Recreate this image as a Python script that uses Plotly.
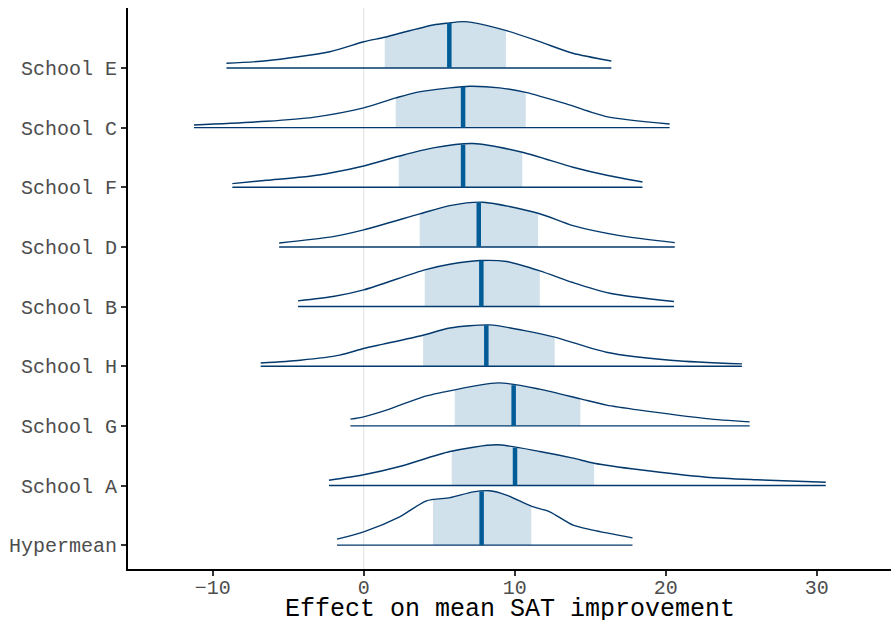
import numpy as np
import plotly.graph_objects as go

# Row labels, bottom to top
labels = ["Hypermean", "School A", "School G", "School H", "School B",
          "School D", "School F", "School C", "School E"]

# Density curves (x = effect, h = scaled density height in row units)
hyper_x = [-1.77, 0, 2.38, 4.15, 5.72, 7.26, 8.34, 9.45, 11.1, 12.32, 13.86, 15.18, 17.8]
hyper_h = [0.101, 0.223, 0.475, 0.743, 0.797, 0.894, 0.911, 0.839, 0.654, 0.559, 0.336, 0.252, 0.122]
a_x = [-2.3, 0, 2.38, 5.72, 8.79, 11.66, 13.87, 15.26, 18.28, 22.7, 26.0, 30.6]
a_h = [0.089, 0.18, 0.319, 0.57, 0.683, 0.57, 0.458, 0.374, 0.263, 0.139, 0.096, 0.055]
g_x = [-0.88, 0, 1.5, 3.93, 5.05, 8.91, 11.66, 14.35, 16.09, 18.28, 22.7, 25.56]
g_h = [0.112, 0.151, 0.263, 0.487, 0.554, 0.721, 0.616, 0.453, 0.347, 0.263, 0.122, 0.067]
h_x = [-6.82, -4.2, -1.59, 0, 1.3, 3.93, 5.7, 8.34, 10.57, 12.65, 16.07, 20.5, 25.05]
h_h = [0.055, 0.101, 0.185, 0.297, 0.37, 0.52, 0.64, 0.693, 0.6, 0.487, 0.235, 0.096, 0.039]
b_x = [-4.35, -2.03, 0, 4.04, 5.7, 7.7, 9.47, 11.66, 13.86, 16.3, 20.55]
b_h = [0.096, 0.168, 0.28, 0.616, 0.71, 0.772, 0.755, 0.599, 0.403, 0.223, 0.084]
d_x = [-5.6, -2.03, 0, 3.71, 5.7, 7.9, 11.55, 13.86, 16.95, 20.6]
d_h = [0.067, 0.173, 0.285, 0.554, 0.693, 0.75, 0.565, 0.357, 0.19, 0.072]
f_x = [-8.7, -6.44, -3.58, -2.05, 0, 2.32, 4.6, 7.24, 10.5, 13.86, 16.1, 18.46]
f_h = [0.062, 0.117, 0.185, 0.247, 0.357, 0.52, 0.66, 0.733, 0.587, 0.336, 0.201, 0.089]
c_x = [-11.24, -6.44, -3.36, 0, 2.12, 3.49, 5.7, 7.02, 9.0, 10.73, 13.42, 16.07, 20.26]
c_h = [0.045, 0.106, 0.173, 0.331, 0.498, 0.592, 0.666, 0.693, 0.666, 0.592, 0.398, 0.185, 0.062]
e_x = [-9.09, -6.44, -2.25, 0, 1.39, 2.38, 4.6, 5.47, 6.69, 9.45, 11.66, 13.85, 16.4]
e_h = [0.079, 0.122, 0.273, 0.441, 0.515, 0.582, 0.721, 0.75, 0.777, 0.626, 0.441, 0.247, 0.117]

curves_x = [hyper_x, a_x, g_x, h_x, b_x, d_x, f_x, c_x, e_x]
curves_h = [hyper_h, a_h, g_h, h_h, b_h, d_h, f_h, c_h, e_h]

# Medians and 50% intervals
medians = [7.81, 10.02, 9.93, 8.12, 7.79, 7.62, 6.58, 6.58, 5.67]
int_lo = [4.59, 5.83, 6.03, 3.93, 4.04, 3.71, 2.32, 2.12, 1.39]
int_hi = [11.1, 15.26, 14.35, 12.65, 11.66, 11.55, 10.5, 10.73, 9.42]

x_ticks = [-10, 0, 10, 20, 30]

LINE = "#03396c"
FILL = "#d1e1ec"
MED = "#005b96"
FONT = "Liberation Mono"
SMOOTH = 0.7

fig = go.Figure()

for i in range(len(labels)):
    xs = np.array(curves_x[i], dtype=float)
    hs = np.array(curves_h[i], dtype=float)
    lo, hi, med = int_lo[i], int_hi[i], medians[i]
    inside = (xs > lo) & (xs < hi)
    fx = np.concatenate([[lo], xs[inside], [hi]])
    fh = np.interp(fx, xs, hs)
    # baseline for fill
    fig.add_trace(go.Scatter(x=[lo, hi], y=[i, i], mode="lines",
                             line=dict(width=0, color=FILL), hoverinfo="skip",
                             showlegend=False))
    fig.add_trace(go.Scatter(x=fx, y=i + fh, mode="lines", fill="tonexty",
                             fillcolor=FILL,
                             line=dict(width=0, shape="spline", smoothing=SMOOTH, color=FILL),
                             hoverinfo="skip", showlegend=False))
    # outline
    fig.add_trace(go.Scatter(x=xs, y=i + hs, mode="lines",
                             line=dict(color=LINE, width=1.4, shape="spline", smoothing=SMOOTH),
                             hoverinfo="skip", showlegend=False))
    # baseline
    fig.add_trace(go.Scatter(x=[xs[0], xs[-1]], y=[i, i], mode="lines",
                             line=dict(color=LINE, width=1.4),
                             hoverinfo="skip", showlegend=False))
    # median
    mh = float(np.interp(med, xs, hs))
    fig.add_trace(go.Scatter(x=[med, med], y=[i, i + mh], mode="lines",
                             line=dict(color=MED, width=4.5),
                             hoverinfo="skip", showlegend=False))

fig.add_shape(type="line", x0=0, x1=0, y0=0, y1=1, xref="x", yref="paper",
              line=dict(color="#e8e8e8", width=1.3), layer="below")

axis_common = dict(showgrid=False, zeroline=False, showline=True, linecolor="black",
                   linewidth=2, ticks="outside", ticklen=5, tickwidth=1.5,
                   tickcolor="#333333", automargin=False,
                   tickfont=dict(family=FONT, size=20, color="#4d4d4d"))

fig.update_layout(
    template="none",
    width=891, height=620,
    margin=dict(l=128, r=0, t=8, b=51),
    plot_bgcolor="white", paper_bgcolor="white",
    xaxis=dict(range=[-15.61, 34.92], tickvals=x_ticks, ticklabelstandoff=-6,
               **axis_common),
    yaxis=dict(range=[-0.40, 9.006], tickvals=list(range(len(labels))), ticktext=labels,
               **axis_common),
    annotations=[dict(text="Effect on mean SAT improvement", xref="paper", yref="paper",
                      x=0.5, y=0, yanchor="middle", yshift=-40, showarrow=False,
                      font=dict(family=FONT, size=25, color="black"))],
)

fig.write_html("out.html", config={"displayModeBar": False},
               post_script="document.body.style.margin='0';document.body.style.overflow='hidden';")
